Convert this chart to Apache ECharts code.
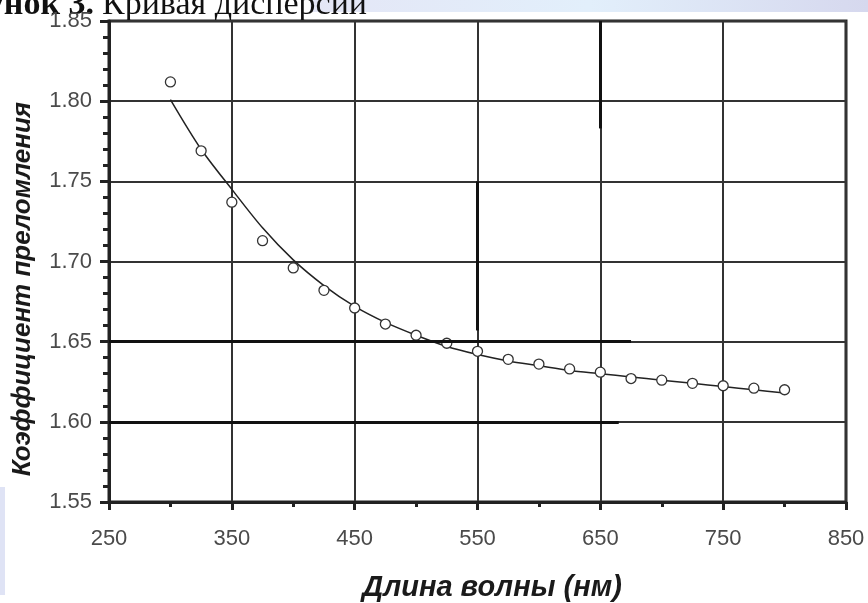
<!DOCTYPE html>
<html>
<head>
<meta charset="utf-8">
<script src="https://cdn.jsdelivr.net/npm/echarts@6/dist/echarts.min.js"></script>
<style>
  html, body { margin: 0; padding: 0; background: #fff; }
  #chart-dom { width: 868px; height: 603px; }
</style>
</head>
<body>
<div id="chart-dom"></div>
<script>
// measured points (wavelength, nm)
const wavelengths = [300, 325, 350, 375, 400, 425, 450, 475, 500, 525, 550, 575, 600, 625, 650, 675, 700, 725, 750, 775, 800]
const measuredN = [1.812, 1.769, 1.737, 1.713, 1.696, 1.682, 1.671, 1.661, 1.654, 1.649, 1.644, 1.639, 1.636, 1.633, 1.631, 1.627, 1.626, 1.624, 1.6225, 1.621, 1.620]
// fitted dispersion curve
const fitN = [1.801, 1.770, 1.745, 1.721, 1.701, 1.685, 1.672, 1.662, 1.654, 1.647, 1.642, 1.638, 1.635, 1.632, 1.630, 1.628, 1.626, 1.624, 1.622, 1.620, 1.618]
// scanner streaks visible on the original scan
const streaks = [
  [[250, 1.65], [675, 1.65]],
  [[250, 1.60], [665, 1.60]],
  [[550, 1.75], [550, 1.657]],
  [[650, 1.85], [650, 1.783]],
]

const chartInstance = echarts.init(document.getElementById('chart-dom'))

const nameFont = 'italic bold {size}px "Liberation Sans", Arial, sans-serif'

const option = {
  backgroundColor: '#fff',
  animation: false,
  graphic: [
    {
      type: 'rect',
      left: 310, top: 0,
      shape: { width: 558, height: 12 },
      style: {
        fill: new echarts.graphic.LinearGradient(0, 0, 1, 0, [
          { offset: 0, color: '#e4e6f6' },
          { offset: 0.5, color: '#e2effb' },
          { offset: 1, color: '#d6d8ee' },
        ]),
      },
      z: -1,
    },
    {
      type: 'rect',
      left: 0, top: 487,
      shape: { width: 5, height: 108 },
      style: { fill: '#dfe3f5' },
      z: -1,
    },
    {
      type: 'text',
      x: 94, y: 22,
      style: {
        text: 'Рисунок 3.',
        align: 'right',
        verticalAlign: 'bottom',
        font: 'bold 34px "Liberation Serif", serif',
        fill: '#111',
      },
    },
    {
      type: 'text',
      x: 102, y: 22,
      style: {
        text: 'Кривая дисперсии',
        align: 'left',
        verticalAlign: 'bottom',
        font: '34px "Liberation Serif", serif',
        fill: '#111',
      },
    },
    {
      // y axis title
      type: 'text',
      x: 23, y: 289,
      rotation: Math.PI / 2,
      style: {
        text: 'Коэффициент преломления',
        align: 'center',
        verticalAlign: 'middle',
        font: nameFont.replace('{size}', 26),
        fill: '#1a1a1a',
      },
    },
    {
      // x axis title
      type: 'text',
      x: 492, y: 588,
      style: {
        text: 'Длина волны (нм)',
        align: 'center',
        verticalAlign: 'middle',
        font: nameFont.replace('{size}', 29),
        fill: '#1a1a1a',
      },
    },
  ],
  grid: {
    left: 109,
    right: 22,
    top: 21,
    bottom: 101,
    containLabel: false,
    outerBoundsMode: 'none',
    show: true,
    borderColor: '#222',
    borderWidth: 3,
  },
  xAxis: {
    type: 'value',
    min: 250,
    max: 850,
    interval: 100,
    axisLine: { onZero: false, lineStyle: { color: '#222', width: 3 } },
    axisTick: { inside: false, length: 8, lineStyle: { color: '#222', width: 3 } },
    minorTick: { show: true, splitNumber: 2, length: 5, lineStyle: { color: '#222', width: 3 } },
    axisLabel: {
      margin: 26,
      fontFamily: 'Liberation Sans',
      fontSize: 22,
      color: '#4a4a4a',
    },
    splitLine: { show: true, lineStyle: { color: '#333', width: 2 } },
  },
  yAxis: {
    type: 'value',
    min: 1.55,
    max: 1.85,
    interval: 0.05,
    axisLine: { onZero: false, lineStyle: { color: '#222', width: 3 } },
    axisTick: { inside: false, length: 9, lineStyle: { color: '#222', width: 3 } },
    minorTick: { show: true, splitNumber: 5, length: 6, lineStyle: { color: '#222', width: 3 } },
    axisLabel: {
      margin: 17,
      fontFamily: 'Liberation Sans',
      fontSize: 22,
      color: '#4a4a4a',
      formatter: (v) => v.toFixed(2),
    },
    splitLine: { show: true, lineStyle: { color: '#333', width: 2 } },
  },
  series: [
    {
      type: 'line',
      data: wavelengths.map((w, i) => [w, fitN[i]]),
      smooth: 0.3,
      symbol: 'none',
      lineStyle: { color: '#222', width: 1.5 },
      z: 3,
      markLine: {
        silent: true,
        symbol: 'none',
        label: { show: false },
        lineStyle: { color: '#111', width: 3, type: 'solid' },
        data: streaks.map((s) => [{ coord: s[0] }, { coord: s[1] }]),
      },
    },
    {
      type: 'scatter',
      data: wavelengths.map((w, i) => [w, measuredN[i]]),
      symbol: 'circle',
      symbolSize: 10,
      itemStyle: { color: '#fff', borderColor: '#333', borderWidth: 1.3, opacity: 1 },
      z: 4,
    },
  ],
}

option && chartInstance.setOption(option)
</script>
</body>
</html>
